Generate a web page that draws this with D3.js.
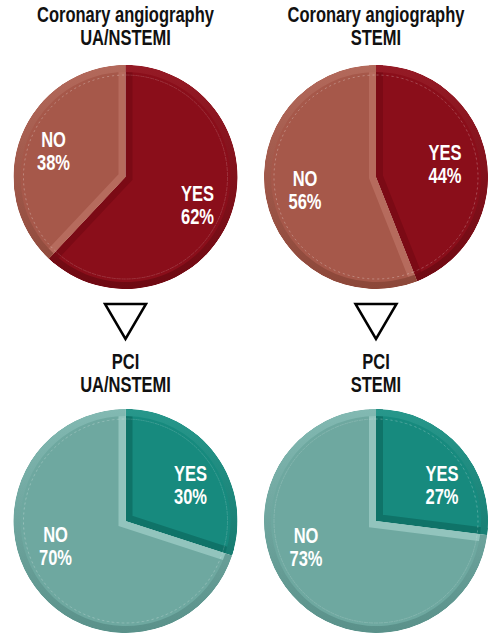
<!DOCTYPE html>
<html><head><meta charset="utf-8">
<script src="https://cdn.jsdelivr.net/npm/d3@7"></script>
<style>html,body{margin:0;padding:0;background:#fff;}svg{display:block;}</style>
</head><body>
<svg id="chart" width="502" height="638"></svg>
<script>
// ---- data ----
const titleLine1 = ["Coronary angiography", "Coronary angiography", "PCI", "PCI"];
const titleLine2 = ["UA/NSTEMI", "STEMI", "UA/NSTEMI", "STEMI"];
const categories = ["YES", "NO"];
const yesValues = [62, 44, 30, 27];
const noValues  = [38, 56, 70, 73];

// ---- layout / style ----
const W = 502, H = 638;
const colX = [125.5, 376];
const rowY = [177, 521];
const R = 112;
const bevel = 7;
const titleBase = [[22, 45], [369, 392]];
const triY = [304, 339];
const labelOffsets = [
  {YES: [72, 27],  NO: [-72, -27]},
  {YES: [69, -14], NO: [-71, 12]},
  {YES: [65, -37], NO: [-70, 24]},
  {YES: [66, -37], NO: [-70, 25]}
];
const palettes = [
  { YES: {main: "#8a0e1a", edge: "#7b0a15", rimTop: "#951a25", rimBot: "#6e0912"},
    NO:  {main: "#a6584a", edge: "#b66b5d", rimTop: "#b3695b", rimBot: "#8c4739"} },
  { YES: {main: "#178a7e", edge: "#0f7368", rimTop: "#27978b", rimBot: "#0e6d63"},
    NO:  {main: "#6ea8a0", edge: "#92c4bd", rimTop: "#82b9b2", rimBot: "#5a918a"} }
];
const font = "'Liberation Sans', Arial, sans-serif";
const squeeze = 0.75;

const svg = d3.select("#chart");
const defs = svg.append("defs");

function condensedText(parent, x, y, str, size, color) {
  parent.append("g")
    .attr("transform", `translate(${x},${y}) scale(${squeeze},1)`)
    .append("text")
    .attr("text-anchor", "middle")
    .attr("font-family", font)
    .attr("font-weight", "bold")
    .attr("font-size", size)
    .attr("fill", color)
    .text(str);
}

const pie = d3.pie().sort(null).value(d => d.v).startAngle(0).endAngle(2 * Math.PI);
const arcFull = d3.arc().innerRadius(0).outerRadius(R);
const arcRim = d3.arc().innerRadius(R - bevel).outerRadius(R);
const arcDash = d3.arc().innerRadius(R - 10).outerRadius(R - 10);

for (let i = 0; i < 4; i++) {
  const row = Math.floor(i / 2), col = i % 2;
  const cx = colX[col], cy = rowY[row];
  const pal = palettes[row];
  const data = [{k: categories[0], v: yesValues[i]}, {k: categories[1], v: noValues[i]}];
  const arcs = pie(data);
  const g = svg.append("g").attr("transform", `translate(${cx},${cy})`);

  arcs.forEach((a, j) => {
    const c = pal[a.data.k];
    const id = `clip${i}_${j}`;
    defs.append("clipPath").attr("id", id).append("path").attr("d", arcFull(a));
    const gid = `grad${i}_${j}`;
    const lg = defs.append("linearGradient").attr("id", gid)
      .attr("gradientUnits", "userSpaceOnUse")
      .attr("x1", 0).attr("y1", -R).attr("x2", 0).attr("y2", R);
    lg.append("stop").attr("offset", "0%").attr("stop-color", c.rimTop);
    lg.append("stop").attr("offset", "100%").attr("stop-color", c.rimBot);

    const sg = g.append("g").attr("clip-path", `url(#${id})`);
    sg.append("path").attr("d", arcFull(a)).attr("fill", c.main);
    // straight edge bevel
    const p1 = [R * Math.sin(a.startAngle), -R * Math.cos(a.startAngle)];
    const p2 = [R * Math.sin(a.endAngle), -R * Math.cos(a.endAngle)];
    sg.append("path")
      .attr("d", `M${p1[0]},${p1[1]}L0,0L${p2[0]},${p2[1]}`)
      .attr("fill", "none").attr("stroke", c.edge)
      .attr("stroke-width", bevel * 2).attr("stroke-linejoin", "miter");
    // rim bevel
    sg.append("path").attr("d", arcRim(a)).attr("fill", `url(#${gid})`);
    // faint dashed line
    sg.append("path").attr("d", arcDash(a))
      .attr("fill", "none").attr("stroke", "#ffffff").attr("stroke-opacity", 0.16)
      .attr("stroke-width", 1).attr("stroke-dasharray", "2,3");

    // labels
    const off = labelOffsets[i][a.data.k];
    const value = a.data.k === "YES" ? yesValues[i] : noValues[i];
    condensedText(g, off[0], off[1] - 3.5, a.data.k, 22, "#ffffff");
    condensedText(g, off[0], off[1] + 19.5, value + "%", 22, "#ffffff");
  });

  // titles
  condensedText(svg, cx, titleBase[row][0], titleLine1[i], 22, "#111111");
  condensedText(svg, cx, titleBase[row][1], titleLine2[i], 22, "#111111");
}

// arrows (down triangles) between rows
colX.forEach(x => {
  const half = 20.5;
  svg.append("path")
    .attr("d", d3.line()([[x - half, triY[0]], [x + half, triY[0]], [x, triY[1]]]) + "Z")
    .attr("fill", "#ffffff").attr("stroke", "#000000").attr("stroke-width", 2.5)
    .attr("stroke-linejoin", "miter");
});
</script>
</body></html>
